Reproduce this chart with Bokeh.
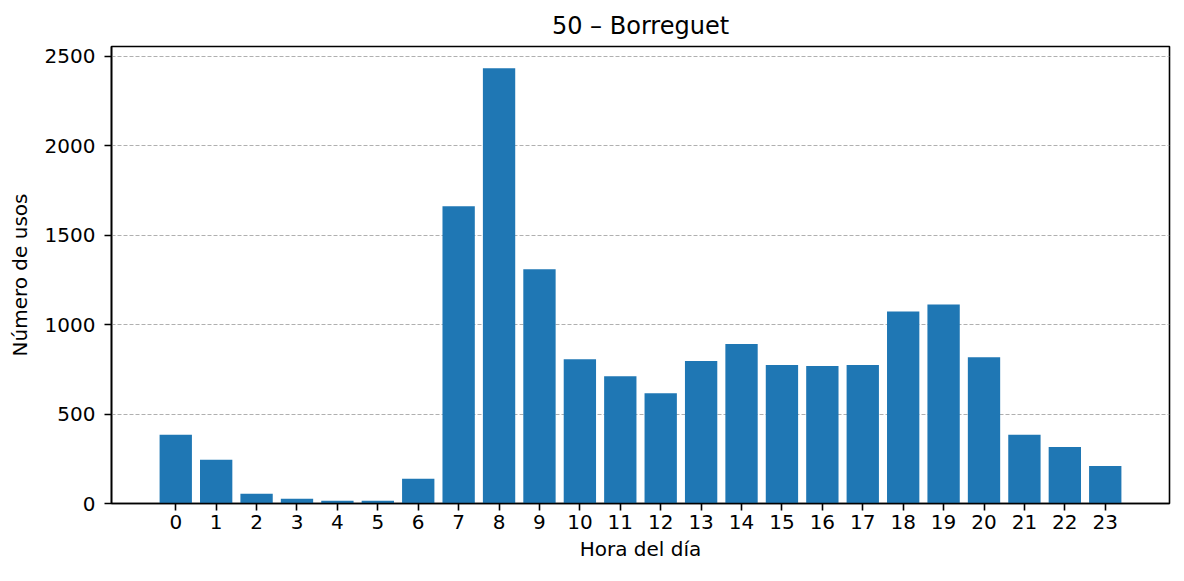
from bokeh.plotting import figure
from bokeh.models import FixedTicker, Range1d
from bokeh.embed import file_html
from bokeh.resources import INLINE

horas = list(range(24))
usos = [385, 245, 54, 26, 15, 15, 138, 1661, 2433, 1310, 807, 712, 617, 796,
        891, 774, 768, 774, 1073, 1112, 817, 385, 316, 210]
y_ticks = [0, 500, 1000, 1500, 2000, 2500]

p = figure(width=1184, height=581, output_backend="svg", toolbar_location=None,
           x_range=Range1d(-1.59, 24.59), y_range=Range1d(0, max(usos) * 1.05),
           title="50 – Borreguet", min_border_left=111, min_border_right=15,
           min_border_top=46, min_border_bottom=78)

p.vbar(x=horas, top=usos, width=0.8, color="#1f77b4", line_color=None)

font = "DejaVu Sans"
p.title.text_font = font
p.title.text_font_size = "24px"
p.title.text_font_style = "normal"
p.title.align = "center"
p.title.text_color = "black"
p.title.standoff = 14

p.xaxis.ticker = FixedTicker(ticks=horas)
p.yaxis.ticker = FixedTicker(ticks=y_ticks)
p.xaxis.axis_label = "Hora del día"
p.yaxis.axis_label = "Número de usos"
for ax in (p.xaxis, p.yaxis):
    ax.axis_label_text_font = font
    ax.axis_label_text_font_size = "20px"
    ax.axis_label_text_font_style = "normal"
    ax.axis_label_text_color = "black"
    ax.major_label_text_font = font
    ax.major_label_text_font_size = "20px"
    ax.major_label_text_color = "black"
    ax.axis_line_color = "black"
    ax.major_tick_line_color = "black"
    ax.major_tick_out = 7
    ax.major_tick_in = 0
    ax.minor_tick_line_color = None
    ax.axis_line_width = 1.6
    ax.major_tick_line_width = 1.6
p.yaxis.major_label_orientation = 0
p.xaxis.major_label_standoff = 4
p.yaxis.major_label_standoff = 9
p.xaxis.axis_label_standoff = 5
p.yaxis.axis_label_standoff = 10

p.xgrid.grid_line_color = None
p.ygrid.grid_line_color = "#b0b0b0"
p.ygrid.grid_line_dash = "4 2"
p.ygrid.grid_line_width = 1

p.outline_line_color = "black"
p.outline_line_width = 1.6
p.outline_line_alpha = 1
p.background_fill_color = "white"
p.border_fill_color = "white"

open("out.html", "w").write(file_html(p, INLINE))
